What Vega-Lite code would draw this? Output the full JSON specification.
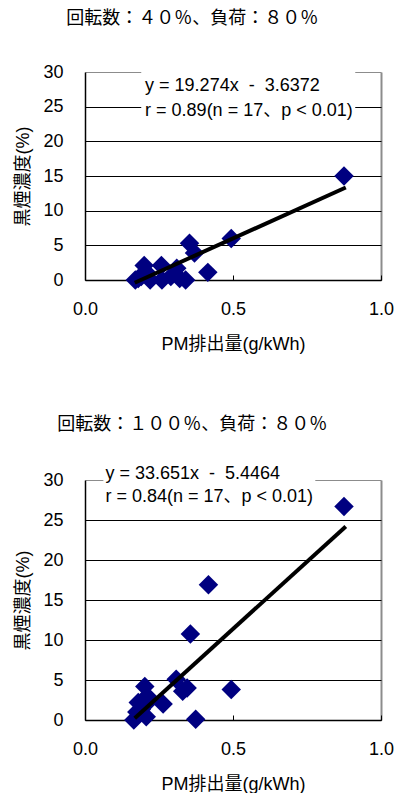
{
  "$schema": "https://vega.github.io/schema/vega-lite/v6.json",
  "padding": {"left": 14, "top": 10, "right": 0, "bottom": 0},
  "background": "white",
  "spacing": 63,
  "config": {
    "view": {"stroke": null},
    "font": "Liberation Sans, Noto Sans CJK JP",
    "axis": {
      "labelFont": "Liberation Sans",
      "labelFontSize": 18,
      "labelColor": "black",
      "titleFont": "Liberation Sans, Noto Sans CJK JP",
      "titleFontSize": 18,
      "titleFontWeight": "normal",
      "titleColor": "black",
      "domainColor": "black",
      "domainWidth": 1.5,
      "tickColor": "black"
    },
    "axisX": {"tickSize": -5, "labelPadding": 25, "titlePadding": 17, "labelFlush": false, "grid": true, "gridColor": "#8c8c8c", "gridWidth": 2},
    "axisY": {"tickSize": 0, "labelPadding": 22, "titlePadding": 10, "grid": true, "gridWidth": 1},
    "title": {
      "font": "Noto Sans CJK JP",
      "fontSize": 18,
      "fontWeight": "normal",
      "color": "black",
      "anchor": "middle",
      "frame": "bounds",
      "dx": -12
    }
  },
  "datasets": {
    "top": [
      {"pm": 0.875, "smoke": 15.0},
      {"pm": 0.494, "smoke": 6.0},
      {"pm": 0.353, "smoke": 5.3},
      {"pm": 0.37, "smoke": 3.9},
      {"pm": 0.415, "smoke": 1.1},
      {"pm": 0.2, "smoke": 2.1},
      {"pm": 0.258, "smoke": 2.1},
      {"pm": 0.31, "smoke": 1.7},
      {"pm": 0.17, "smoke": 0.0},
      {"pm": 0.19, "smoke": 0.5},
      {"pm": 0.21, "smoke": 1.0},
      {"pm": 0.26, "smoke": 0.0},
      {"pm": 0.32, "smoke": 0.2},
      {"pm": 0.34, "smoke": 0.0},
      {"pm": 0.18, "smoke": 0.2},
      {"pm": 0.22, "smoke": 0.0},
      {"pm": 0.29, "smoke": 0.5}
    ],
    "topLine": [
      {"pm": 0.168, "smoke": -0.4},
      {"pm": 0.881, "smoke": 13.34}
    ],
    "bottom": [
      {"pm": 0.875, "smoke": 26.7},
      {"pm": 0.417, "smoke": 16.9},
      {"pm": 0.356, "smoke": 10.75},
      {"pm": 0.494, "smoke": 3.8},
      {"pm": 0.374, "smoke": 0.1},
      {"pm": 0.308, "smoke": 5.1},
      {"pm": 0.345, "smoke": 4.0},
      {"pm": 0.33, "smoke": 3.6},
      {"pm": 0.202, "smoke": 4.2},
      {"pm": 0.264, "smoke": 2.0},
      {"pm": 0.18, "smoke": 2.2},
      {"pm": 0.19, "smoke": 1.3},
      {"pm": 0.207, "smoke": 0.4},
      {"pm": 0.165, "smoke": 0.0},
      {"pm": 0.21, "smoke": 3.0},
      {"pm": 0.22, "smoke": 2.5},
      {"pm": 0.175, "smoke": 1.0}
    ],
    "bottomLine": [
      {"pm": 0.168, "smoke": 0.21},
      {"pm": 0.881, "smoke": 24.2}
    ]
  },
  "vconcat": [
    {
      "title": {"text": "回転数：４０％、負荷：８０％", "offset": 35},
      "width": 296,
      "height": 208,
      "layer": [
        {
          "data": {"values": [{}]},
          "mark": {"type": "rect", "fill": "white", "clip": false},
          "encoding": {
            "x": {"datum": 0.19, "type": "quantitative",
              "scale": {"domain": [0, 1], "nice": false, "zero": false},
              "axis": {"title": "PM排出量(g/kWh)", "values": [0, 0.5, 1], "format": ".1f",
                "gridOpacity": {"condition": {"test": "datum.value == 1", "value": 1}, "value": 0}}},
            "x2": {"datum": 0.913},
            "y": {"datum": 31, "type": "quantitative",
              "scale": {"domain": [0, 30], "nice": false, "zero": false},
              "axis": {"title": "黒煙濃度(%)", "values": [0, 5, 10, 15, 20, 25, 30],
                "gridColor": {"condition": {"test": "datum.value == 30", "value": "#8c8c8c"}, "value": "black"}}},
            "y2": {"datum": 23.5}
          }
        },
        {
          "data": {"name": "top"},
          "mark": {"type": "point", "shape": "diamond", "filled": true, "color": "#000080", "opacity": 1, "size": 380},
          "encoding": {
            "x": {"field": "pm", "type": "quantitative",
              "axis": {"title": "PM排出量(g/kWh)", "values": [0, 0.5, 1], "format": ".1f",
                "gridOpacity": {"condition": {"test": "datum.value == 1", "value": 1}, "value": 0}}},
            "y": {"field": "smoke", "type": "quantitative",
              "axis": {"title": "黒煙濃度(%)", "values": [0, 5, 10, 15, 20, 25, 30],
                "gridColor": {"condition": {"test": "datum.value == 30", "value": "#8c8c8c"}, "value": "black"}}}
          }
        },
        {
          "data": {"name": "topLine"},
          "mark": {"type": "line", "color": "black", "strokeWidth": 4},
          "encoding": {
            "x": {"field": "pm", "type": "quantitative",
              "axis": {"title": "PM排出量(g/kWh)", "values": [0, 0.5, 1], "format": ".1f",
                "gridOpacity": {"condition": {"test": "datum.value == 1", "value": 1}, "value": 0}}},
            "y": {"field": "smoke", "type": "quantitative",
              "axis": {"title": "黒煙濃度(%)", "values": [0, 5, 10, 15, 20, 25, 30],
                "gridColor": {"condition": {"test": "datum.value == 30", "value": "#8c8c8c"}, "value": "black"}}}
          }
        },
        {
          "data": {"values": [{}]},
          "mark": {
            "type": "text",
            "align": "left",
            "baseline": "top",
            "fontSize": 18,
            "lineHeight": 25,
            "color": "black",
            "font": "Liberation Sans, Noto Sans CJK JP"
          },
          "encoding": {
            "text": {"value": ["y = 19.274x\u00a0 -\u00a0 3.6372", "r = 0.89(n = 17、p < 0.01)"]},
            "x": {"datum": 0.203, "type": "quantitative",
              "axis": {"title": "PM排出量(g/kWh)", "values": [0, 0.5, 1], "format": ".1f",
                "gridOpacity": {"condition": {"test": "datum.value == 1", "value": 1}, "value": 0}}},
            "y": {"datum": 29.27, "type": "quantitative",
              "axis": {"title": "黒煙濃度(%)", "values": [0, 5, 10, 15, 20, 25, 30],
                "gridColor": {"condition": {"test": "datum.value == 30", "value": "#8c8c8c"}, "value": "black"}}}
          }
        }
      ]
    },
    {
      "title": {"text": "回転数：１００％、負荷：８０％", "offset": 30},
      "width": 296,
      "height": 240,
      "layer": [
        {
          "data": {"values": [{}]},
          "mark": {"type": "rect", "fill": "white", "clip": false},
          "encoding": {
            "x": {"datum": 0.062, "type": "quantitative",
              "scale": {"domain": [0, 1], "nice": false, "zero": false},
              "axis": {"title": "PM排出量(g/kWh)", "values": [0, 0.5, 1], "format": ".1f",
                "gridOpacity": {"condition": {"test": "datum.value == 1", "value": 1}, "value": 0}}},
            "x2": {"datum": 0.778},
            "y": {"datum": 32, "type": "quantitative",
              "scale": {"domain": [0, 30], "nice": false, "zero": false},
              "axis": {"title": "黒煙濃度(%)", "values": [0, 5, 10, 15, 20, 25, 30],
                "gridColor": {"condition": {"test": "datum.value == 30", "value": "#8c8c8c"}, "value": "black"}}},
            "y2": {"datum": 26.4}
          }
        },
        {
          "data": {"name": "bottom"},
          "mark": {"type": "point", "shape": "diamond", "filled": true, "color": "#000080", "opacity": 1, "size": 380},
          "encoding": {
            "x": {"field": "pm", "type": "quantitative",
              "axis": {"title": "PM排出量(g/kWh)", "values": [0, 0.5, 1], "format": ".1f",
                "gridOpacity": {"condition": {"test": "datum.value == 1", "value": 1}, "value": 0}}},
            "y": {"field": "smoke", "type": "quantitative",
              "axis": {"title": "黒煙濃度(%)", "values": [0, 5, 10, 15, 20, 25, 30],
                "gridColor": {"condition": {"test": "datum.value == 30", "value": "#8c8c8c"}, "value": "black"}}}
          }
        },
        {
          "data": {"name": "bottomLine"},
          "mark": {"type": "line", "color": "black", "strokeWidth": 4},
          "encoding": {
            "x": {"field": "pm", "type": "quantitative",
              "axis": {"title": "PM排出量(g/kWh)", "values": [0, 0.5, 1], "format": ".1f",
                "gridOpacity": {"condition": {"test": "datum.value == 1", "value": 1}, "value": 0}}},
            "y": {"field": "smoke", "type": "quantitative",
              "axis": {"title": "黒煙濃度(%)", "values": [0, 5, 10, 15, 20, 25, 30],
                "gridColor": {"condition": {"test": "datum.value == 30", "value": "#8c8c8c"}, "value": "black"}}}
          }
        },
        {
          "data": {"values": [{}]},
          "mark": {
            "type": "text",
            "align": "left",
            "baseline": "top",
            "fontSize": 18,
            "lineHeight": 23,
            "color": "black",
            "font": "Liberation Sans, Noto Sans CJK JP"
          },
          "encoding": {
            "text": {"value": ["y = 33.651x\u00a0 -\u00a0 5.4464", "r = 0.84(n = 17、p < 0.01)"]},
            "x": {"datum": 0.069, "type": "quantitative",
              "axis": {"title": "PM排出量(g/kWh)", "values": [0, 0.5, 1], "format": ".1f",
                "gridOpacity": {"condition": {"test": "datum.value == 1", "value": 1}, "value": 0}}},
            "y": {"datum": 31.9, "type": "quantitative",
              "axis": {"title": "黒煙濃度(%)", "values": [0, 5, 10, 15, 20, 25, 30],
                "gridColor": {"condition": {"test": "datum.value == 30", "value": "#8c8c8c"}, "value": "black"}}}
          }
        }
      ]
    }
  ]
}
